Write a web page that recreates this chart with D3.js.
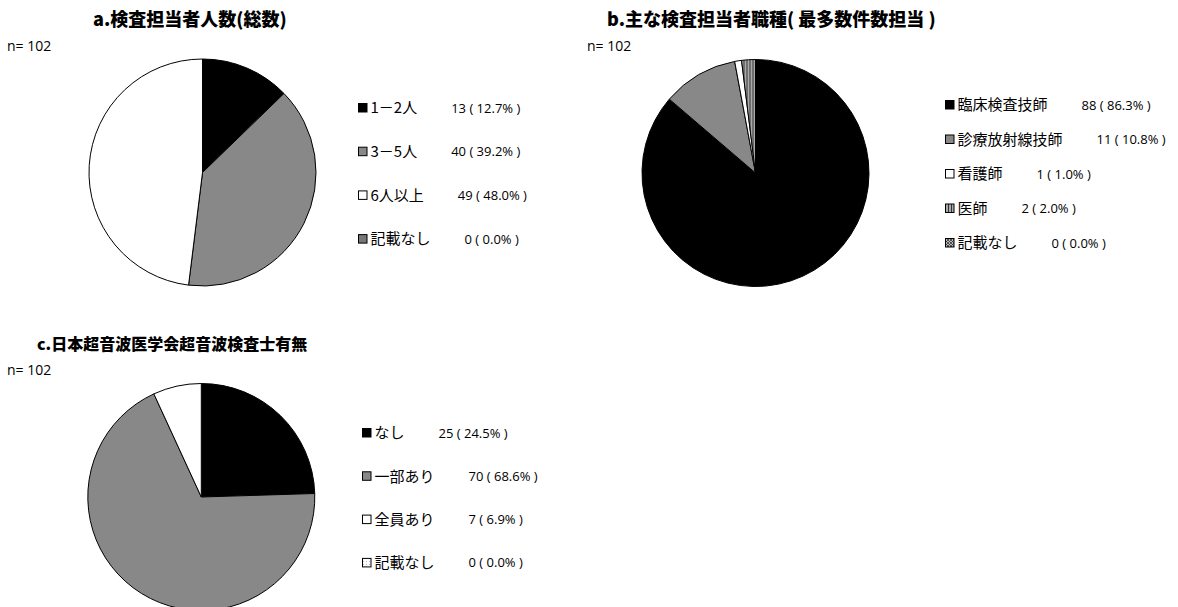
<!DOCTYPE html>
<html><head><meta charset="utf-8">
<script src="https://cdn.jsdelivr.net/npm/d3@7"></script>
<style>
html,body{margin:0;padding:0;background:#fff;}
svg{display:block;}
.title{font-family:"Noto Sans CJK JP";font-weight:900;font-size:18px;}
.title.small{font-size:16px;}
.nlab{font-family:"Open Sans","Noto Sans",sans-serif;font-size:14px;}
.lab{font-family:"Noto Sans CJK JP";font-size:15px;}
.val{font-family:"Open Sans","Noto Sans",sans-serif;font-size:13px;}
</style></head>
<body>
<svg id="chart" width="1178" height="607"></svg>
<script>
// ---- data ----
const titles = ["a.検査担当者人数(総数)", "b.主な検査担当者職種( 最多数件数担当 )", "c.日本超音波医学会超音波検査士有無"];
const nTotal = 102;
const catsA = ["1－2人", "3－5人", "6人以上", "記載なし"];
const valsA = [13, 40, 49, 0];
const catsB = ["臨床検査技師", "診療放射線技師", "看護師", "医師", "記載なし"];
const valsB = [88, 11, 1, 2, 0];
const catsC = ["なし", "一部あり", "全員あり", "記載なし"];
const valsC = [25, 70, 7, 0];

// ---- styles ----
const svg = d3.select("#chart");
const defs = svg.append("defs");
const pv = defs.append("pattern").attr("id","vstripe").attr("patternUnits","userSpaceOnUse").attr("width",3).attr("height",3);
pv.append("rect").attr("width",3).attr("height",3).attr("fill","#aaa");
pv.append("rect").attr("width",1).attr("height",3).attr("fill","#333");
const px = defs.append("pattern").attr("id","xhatch").attr("patternUnits","userSpaceOnUse").attr("width",3).attr("height",3);
px.append("rect").attr("width",3).attr("height",3).attr("fill","#bbb");
px.append("path").attr("d","M0,0L3,3M3,0L0,3").attr("stroke","#333").attr("stroke-width",0.8);
const pd = defs.append("pattern").attr("id","dots").attr("patternUnits","userSpaceOnUse").attr("width",3).attr("height",3);
pd.append("rect").attr("width",3).attr("height",3).attr("fill","#fff");
pd.append("rect").attr("width",1).attr("height",1).attr("fill","#bbb");

const fillsA = ["#000", "#888", "#fff", "#777"];
const fillsB = ["#000", "#888", "#fff", "url(#vstripe)", "url(#xhatch)"];
const fillsC = ["#000", "#888", "#fff", "url(#dots)"];

const panels = [
  {title: titles[0], cls: "title", cats: catsA, vals: valsA, fills: fillsA, tx: 93, ty: 26, nx: 7, ny: 51, cx: 202.5, cy: 172.5, lx: 358, ly0: 108, ldy: 43.7},
  {title: titles[1], cls: "title", cats: catsB, vals: valsB, fills: fillsB, tx: 607, ty: 26, nx: 587, ny: 51, cx: 755.5, cy: 173, lx: 945, ly0: 105, ldy: 34.5},
  {title: titles[2], cls: "title small", cats: catsC, vals: valsC, fills: fillsC, tx: 37, ty: 350, nx: 7, ny: 375, cx: 201.3, cy: 497, lx: 362, ly0: 433, ldy: 43.3}
];
const R = 113.5;
const pct = d3.format(".1f");

panels.forEach(p => {
  svg.append("text").attr("class",p.cls).attr("x",p.tx).attr("y",p.ty).text(p.title);
  svg.append("text").attr("class","nlab").attr("x",p.nx).attr("y",p.ny).text("n= " + nTotal);
  const data = p.cats.map((c,i)=>({cat:c, v:p.vals[i], fill:p.fills[i]}));
  const pie = d3.pie().sort(null).value(d=>d.v);
  const arc = d3.arc().innerRadius(0).outerRadius(R);
  const g = svg.append("g").attr("transform",`translate(${p.cx},${p.cy})`);
  g.selectAll("path").data(pie(data).filter(d=>d.data.v>0)).join("path")
    .attr("d",arc).attr("fill",d=>d.data.fill).attr("stroke","#000").attr("stroke-width",1);
  const yS = d3.scalePoint().domain(p.cats).range([p.ly0, p.ly0 + p.ldy*(p.cats.length-1)]);
  const lg = svg.append("g");
  data.forEach(d => {
    const y = yS(d.cat);
    lg.append("rect").attr("x",p.lx+0.5).attr("y",y-4.5).attr("width",8.5).attr("height",8.5)
      .attr("fill",d.fill).attr("stroke","#000").attr("stroke-width",1);
    const t = lg.append("text").attr("class","lab").attr("x",p.lx+12.5).attr("y",y).attr("dy","0.35em").text(d.cat);
    const w = t.node().getComputedTextLength();
    lg.append("text").attr("class","val").attr("x",p.lx+12.5+w+34).attr("y",y).attr("dy","0.35em")
      .text(`${d.v} ( ${pct(d.v/nTotal*100)}% )`);
  });
});
</script>
</body></html>
